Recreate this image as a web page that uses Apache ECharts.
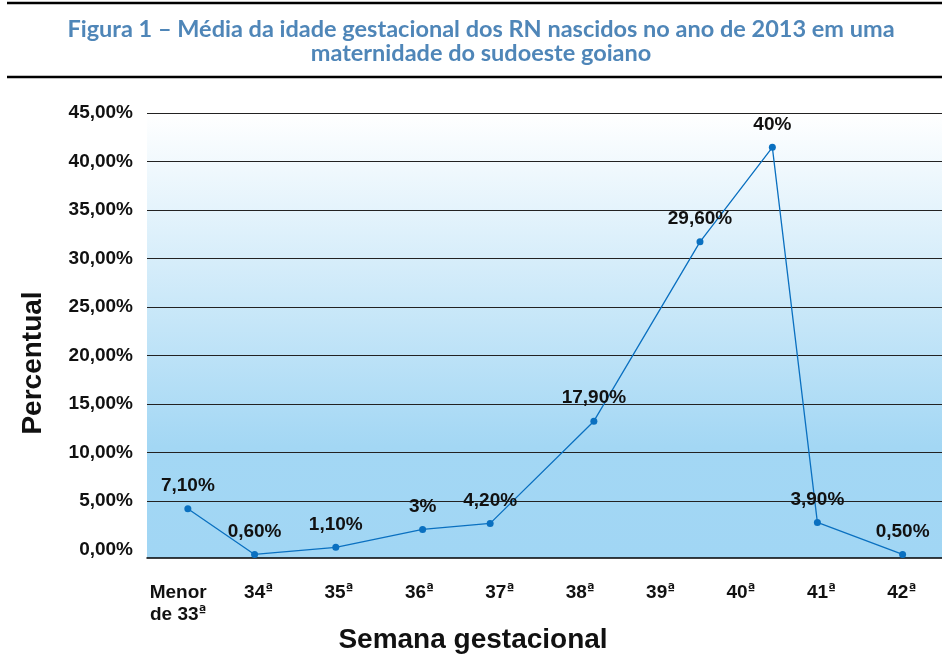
<!DOCTYPE html>
<html>
<head>
<meta charset="utf-8">
<script src="https://cdn.jsdelivr.net/npm/echarts@6/dist/echarts.min.js"></script>
<style>
  html, body { margin: 0; padding: 0; background: #fff; }
  #chart { width: 942px; height: 654px; }
</style>
</head>
<body>
<div id="chart"></div>
<script>
// semanas (eixo x)
var semanas = ['Menor\nde 33ª', '34ª', '35ª', '36ª', '37ª', '38ª', '39ª', '40ª', '41ª', '42ª'];
// rótulos como impressos na figura
var rotulos = ['7,10%', '0,60%', '1,10%', '3%', '4,20%', '17,90%', '29,60%', '40%', '3,90%', '0,50%'];
// posição dos pontos (em unidades de categoria) e altura em %
var posX = [0.12, 0.95, 1.96, 3.04, 3.88, 5.17, 6.49, 7.39, 7.95, 9.01];
var valY = [4.18, -0.53, 0.20, 2.05, 2.67, 13.21, 31.71, 41.46, 2.77, -0.53];

var fonte = '"Liberation Sans", Arial, sans-serif';
var yMin = -0.9, yMax = 45;

// cor das linhas de grade (1a = borda inferior, 2a = 0%, que não aparece no original)
var corGrade = ['transparent', 'transparent', '#222', '#222', '#222', '#222', '#222', '#222', '#222', '#222', '#222'];

function rotuloSemana(v) {
    return v.replace(/ª/g, '{o|ª}');
}

var option = {
    animation: false,
    graphic: [
        { type: 'line', shape: { x1: 7, y1: 3, x2: 942, y2: 3 }, style: { stroke: '#000', lineWidth: 2.5 } },
        { type: 'line', shape: { x1: 7, y1: 77, x2: 942, y2: 77 }, style: { stroke: '#000', lineWidth: 2.5 } },
        {
            type: 'text', x: 481, y: 41,
            style: {
                text: 'Figura 1 – Média da idade gestacional dos RN nascidos no ano de 2013 em uma\nmaternidade do sudoeste goiano',
                fontFamily: 'Lato, "Open Sans", sans-serif', fontWeight: 'bold', fontSize: 23.5,
                lineHeight: 24, fill: '#4f86b8', textAlign: 'center', textVerticalAlign: 'middle'
            }
        },
        {
            type: 'text', x: 33, y: 363, rotation: Math.PI / 2,
            style: {
                text: 'Percentual', fontFamily: fonte, fontWeight: 'bold', fontSize: 28,
                fill: '#111', textAlign: 'center', textVerticalAlign: 'middle'
            }
        },
        {
            type: 'text', x: 473, y: 640,
            style: {
                text: 'Semana gestacional', fontFamily: fonte, fontWeight: 'bold', fontSize: 28,
                fill: '#111', textAlign: 'center', textVerticalAlign: 'middle'
            }
        }
    ],
    grid: [
        {
            left: 147, right: 0, top: 113, bottom: 96,
            show: true, borderWidth: 0,
            backgroundColor: new echarts.graphic.LinearGradient(0, 0, 0, 1, [
                { offset: 0, color: '#ffffff' },
                { offset: 0.75, color: '#a3d7f4' },
                { offset: 1, color: '#a1d6f4' }
            ])
        },
        { left: 138, right: 0, top: 113, bottom: 96 }
    ],
    xAxis: [
        {
            gridIndex: 0, type: 'value', min: 0, max: 1,
            axisLine: { show: true, onZero: false, lineStyle: { color: '#000', width: 1.5 } },
            axisTick: { show: false }, axisLabel: { show: false }, splitLine: { show: false }
        },
        {
            gridIndex: 1, type: 'category', data: semanas,
            axisLine: { show: false, onZero: false }, axisTick: { show: false },
            axisLabel: {
                interval: 0, margin: 24,
                fontFamily: fonte, fontWeight: 'bold', fontSize: 19, lineHeight: 22, color: '#111',
                formatter: rotuloSemana,
                rich: {
                    o: { fontFamily: '"DejaVu Sans", sans-serif', fontWeight: 'bold', fontSize: 14, color: '#111', verticalAlign: 'top', lineHeight: 22 }
                }
            }
        },
        {
            gridIndex: 1, type: 'value', min: -0.5, max: 9.5, show: false
        }
    ],
    yAxis: [
        {
            gridIndex: 0, type: 'value', min: yMin, max: yMax, splitNumber: 9,
            axisLine: { show: false }, axisTick: { show: false },
            axisLabel: {
                margin: 14, fontFamily: fonte, fontWeight: 'bold', fontSize: 19, color: '#111',
                formatter: function (v) { return v < 0 ? '' : v.toFixed(2).replace('.', ',') + '%'; }
            },
            splitLine: { lineStyle: { color: corGrade, width: 1.2 } }
        },
        { gridIndex: 1, type: 'value', min: yMin, max: yMax, show: false }
    ],
    series: [{
        type: 'line',
        xAxisIndex: 2, yAxisIndex: 1,
        data: posX.map(function (x, i) { return [x, valY[i]]; }),
        symbol: 'circle', symbolSize: 7,
        lineStyle: { color: '#0a70c0', width: 1.3 },
        itemStyle: { color: '#0a70c0' },
        label: {
            show: true, position: 'top', distance: 10,
            fontFamily: fonte, fontWeight: 'bold', fontSize: 19, color: '#111',
            formatter: function (p) { return rotulos[p.dataIndex]; }
        }
    }]
};

var chart = echarts.init(document.getElementById('chart'));
chart.setOption(option);
</script>
</body>
</html>
